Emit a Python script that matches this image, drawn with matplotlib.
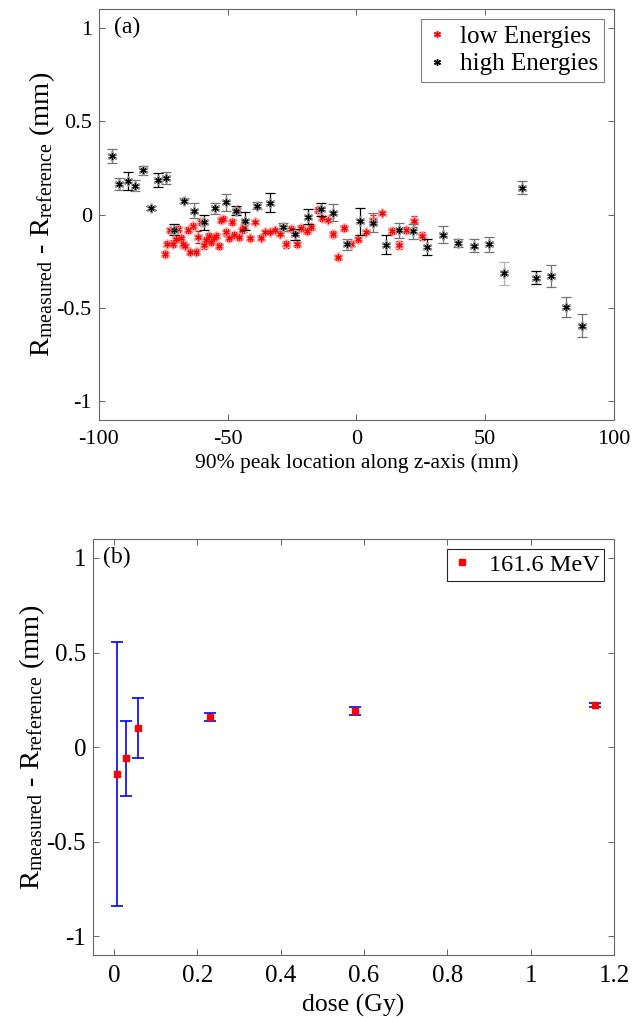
import numpy as np
import matplotlib.pyplot as plt

plt.rcParams['font.family'] = ['Liberation Serif', 'DejaVu Serif']
plt.rcParams['mathtext.fontset'] = 'custom'
plt.rcParams['mathtext.rm'] = 'Liberation Serif'
plt.rcParams['mathtext.it'] = 'Liberation Serif:italic'

# (a) low energies
low_x = [-74.4, -73.4, -72.5, -71.2, -70.1, -69.3, -68.2, -67.3, -66.5, -65.4,
         -64.5, -63.4, -62.4, -61.5, -60.4, -59.1, -58.2, -57.2, -56.3, -55.3,
         -54.4, -53.5, -52.5, -51.6, -50.5, -49.5, -48.4, -47.5, -46.5, -45.4,
         -44.5, -43.6, -41.4, -39.2, -37.1, -35.5, -33.5, -31.6, -29.7, -27.2,
         -25.3, -23.0, -21.4, -19.3, -17.5, -14.8, -13.2, -11.2, -9.1, -7.1,
         -4.7, -2.2, 0.5, 3.8, 6.6, 9.9, 13.7, 16.4, 19.2, 22.2, 25.3]
low_y = [-0.212, -0.155, -0.085, -0.155, -0.133, -0.077, -0.123, -0.160, -0.166, -0.084,
         -0.199, -0.062, -0.199, -0.120, -0.039, -0.164, -0.137, -0.116, -0.146, -0.128,
         -0.114, -0.167, -0.030, -0.025, -0.096, -0.125, -0.039, -0.110, 0.027, -0.119,
         -0.084, -0.066, -0.128, -0.041, -0.123, -0.093, -0.096, -0.080, -0.102, -0.160,
         -0.075, -0.155, -0.073, -0.089, -0.066, 0.023, -0.021, -0.027, -0.105, -0.229,
         -0.073, -0.155, -0.133, -0.096, -0.030, 0.011, -0.087, -0.164, -0.084, -0.036, -0.116]
low_err = [0.015, 0.015, 0.015, 0.02, 0.015, 0.015, 0.015, 0.02, 0.015, 0.015,
           0.015, 0.015, 0.015, 0.03, 0.015, 0.02, 0.015, 0.015, 0.015, 0.015,
           0.015, 0.015, 0.015, 0.015, 0.02, 0.015, 0.015, 0.015, 0.015, 0.015,
           0.015, 0.03, 0.015, 0.01, 0.015, 0.01, 0.01, 0.01, 0.015, 0.02,
           0.015, 0.02, 0.015, 0.015, 0.015, 0.015, 0.015, 0.01, 0.015, 0.015,
           0.015, 0.015, 0.015, 0.01, 0.025, 0.01, 0.015, 0.02, 0.015, 0.03, 0.02]

# (a) high energies
high_x = [-94.8, -92.0, -88.8, -85.8, -83.0, -79.9, -77.0, -73.9, -70.6, -67.0,
          -62.9, -59.1, -54.9, -50.8, -46.9, -43.1, -38.4, -33.6, -28.6, -23.7,
          -18.6, -13.8, -9.0, -3.8, 1.4, 6.6, 11.5, 16.5, 21.9, 27.5,
          33.6, 39.6, 45.6, 51.6, 57.4, 64.2, 69.7, 75.5, 81.4, 87.4]
high_y = [0.313, 0.164, 0.180, 0.155, 0.237, 0.037, 0.185, 0.196, -0.080, 0.075,
          0.020, -0.040, 0.034, 0.066, 0.020, -0.034, 0.048, 0.064, -0.066, -0.105,
          -0.012, 0.028, 0.009, -0.160, -0.037, -0.044, -0.162, -0.084, -0.089, -0.174,
          -0.107, -0.153, -0.167, -0.158, -0.315, 0.144, -0.338, -0.329, -0.496, -0.594]
high_err = [0.036, 0.034, 0.05, 0.03, 0.025, 0.01, 0.04, 0.03, 0.03, 0.015,
            0.04, 0.04, 0.03, 0.045, 0.025, 0.05, 0.02, 0.05, 0.02, 0.03,
            0.04, 0.035, 0.045, 0.03, 0.07, 0.05, 0.05, 0.04, 0.04, 0.045,
            0.045, 0.02, 0.035, 0.04, 0.06, 0.035, 0.035, 0.06, 0.055, 0.06]
high_shade = ['0.45', '0.45', '0.0', '0.45', '0.45', '0.0', '0.0', '0.45', '0.0', '0.45',
              '0.45', '0.0', '0.45', '0.45', '0.0', '0.0', '0.45', '0.0', '0.45', '0.0',
              '0.0', '0.0', '0.45', '0.45', '0.0', '0.45', '0.0', '0.45', '0.45', '0.0',
              '0.45', '0.45', '0.45', '0.45', '0.7', '0.45', '0.0', '0.45', '0.45', '0.45']

# (b) dose dependence at 161.6 MeV
dose = [0.008, 0.028, 0.057, 0.231, 0.579, 1.155]
dose_dr = [-0.142, -0.060, 0.100, 0.158, 0.190, 0.221]
dose_err = [0.700, 0.198, 0.158, 0.022, 0.021, 0.010]

ylab = r'$\mathrm{R_{measured}}$ - $\mathrm{R_{reference}}$ (mm)'
star = (6, 2, 0)

fig = plt.figure(figsize=(6.33, 10.21), dpi=100)
ax1 = fig.add_axes([0.156, 0.5886, 0.814, 0.4025])
ax2 = fig.add_axes([0.147, 0.0646, 0.823, 0.4074])

# panel (a)
ax1.errorbar(low_x, low_y, yerr=low_err, fmt='none', ecolor='red',
             elinewidth=0.9, capsize=2.5, capthick=0.9, zorder=2)
ax1.plot(low_x, low_y, ls='none', marker=star, ms=7, mec='#ff9a9a', mew=1.6, zorder=3)
ax1.plot(low_x, low_y, ls='none', marker=star, ms=4.5, mec='red', mew=0.9, zorder=4)
for x, y, e, c in zip(high_x, high_y, high_err, high_shade):
    ax1.errorbar(x, y, yerr=e, fmt='none', ecolor=c, elinewidth=0.9,
                 capsize=3.3, capthick=0.9, zorder=5)
ax1.plot(high_x, high_y, ls='none', marker=star, ms=7, mec='0.6', mew=1.6, zorder=6)
ax1.plot(high_x, high_y, ls='none', marker=star, ms=4.5, mec='black', mew=0.9, zorder=7)

h_low, = ax1.plot([], [], ls='none', marker=star, ms=5, mec='red', mew=1)
h_high, = ax1.plot([], [], ls='none', marker=star, ms=5, mec='black', mew=1)
leg = ax1.legend([h_low, h_high], ['low Energies', 'high Energies'], loc='upper right',
                 fontsize=18, fancybox=False, framealpha=1, edgecolor='0.5',
                 handlelength=0.8, handletextpad=0.5, borderpad=0.25, labelspacing=0.2,
                 borderaxespad=0.4)
leg.get_frame().set_linewidth(0.8)

ax1.set_xlim(-100, 100)
ax1.set_ylim(-1.1, 1.1)
ax1.set_xticks([-100, -50, 0, 50, 100])
ax1.set_yticks([-1, -0.5, 0, 0.5, 1])
ax1.set_yticklabels(['-1', '-0.5', '0', '0.5', '1'])
ax1.set_xticklabels(['-100', '-50', '0', '50', '100'])
ax1.set_xlabel('90% peak location along z-axis (mm)', fontsize=15.5, labelpad=3)
ax1.set_ylabel(ylab, fontsize=20.5, labelpad=0)
ax1.text(0.03, 0.955, '(a)', transform=ax1.transAxes, fontsize=17, va='center')
ax1.tick_params(labelsize=16)

# panel (b)
ax2.errorbar(dose, dose_dr, yerr=dose_err, fmt='none', ecolor='#0000ff',
             elinewidth=1.2, capsize=4, capthick=1.2, zorder=2)
ax2.plot(dose, dose_dr, ls='none', marker='s', ms=4.5, mfc='red', mec='red', zorder=3)
h_b, = ax2.plot([], [], ls='none', marker='s', ms=4.5, mfc='red', mec='red')
leg2 = ax2.legend([h_b], ['161.6 MeV'], loc='upper right', fontsize=17.5, fancybox=False,
                  framealpha=1, edgecolor='0.15', handlelength=0.8, handletextpad=0.7,
                  borderpad=0.2, borderaxespad=0.4)
leg2.get_frame().set_linewidth(0.8)

ax2.set_xlim(-0.05, 1.2)
ax2.set_ylim(-1.1, 1.1)
ax2.set_xticks([0, 0.2, 0.4, 0.6, 0.8, 1, 1.2])
ax2.set_xticklabels(['0', '0.2', '0.4', '0.6', '0.8', '1', '1.2'])
ax2.set_yticks([-1, -0.5, 0, 0.5, 1])
ax2.set_yticklabels(['-1', '-0.5', '0', '0.5', '1'])
ax2.set_xlabel('dose (Gy)', fontsize=18.5, labelpad=5)
ax2.set_ylabel(ylab, fontsize=20.5, labelpad=0)
ax2.text(0.02, 0.955, '(b)', transform=ax2.transAxes, fontsize=17, va='center')
ax2.tick_params(labelsize=18)

for ax in (ax1, ax2):
    ax.tick_params(direction='in', top=True, right=True, length=4, width=0.7,
                   color='0.4', pad=7)
    ax.tick_params(axis='y', pad=5)
    for s in ax.spines.values():
        s.set_color('0.4')
        s.set_linewidth(0.8)

fig.savefig('out.png', dpi=100)
